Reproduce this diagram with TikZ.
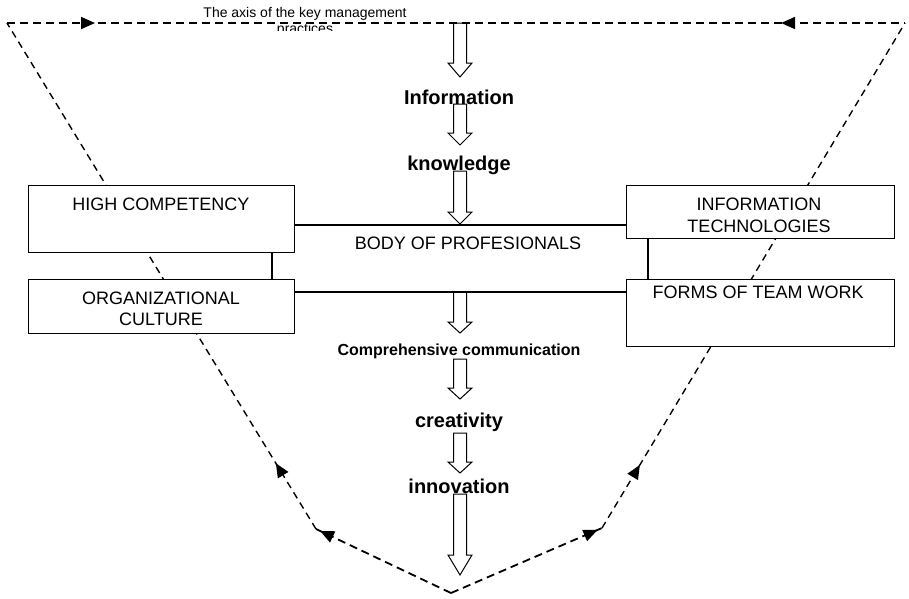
\documentclass[tikz,border=0pt]{standalone}
\usepackage{fontspec}
\setmainfont{Liberation Sans}
\usetikzlibrary{arrows.meta,decorations.markings}
\newcommand\blockarr[4]{%
  \draw[barrow] ({#1-6.5},#2) -- ({#1+6.5},#2) -- ({#1+6.5},#3) -- ({#1+12},#3)
    -- (#1,#4) -- ({#1-12},#3) -- ({#1-6.5},#3) -- cycle;}
\begin{document}
\begin{tikzpicture}[x=1pt,y=-1pt,
  >={Triangle[length=14pt,width=12pt]},
  box/.style={draw, line width=1.3pt, fill=white, inner sep=0pt, anchor=north west},
  boxtext/.style={font=\fontsize{18}{21}\selectfont, anchor=base, inner sep=0pt},
  flowtext/.style={font=\bfseries\fontsize{20}{24}\selectfont, anchor=base, inner sep=0pt},
  conn/.style={line width=1.3pt},
  dline/.style={line width=1.8pt, dash pattern=on 8pt off 5pt},
  sline/.style={line width=1.4pt, dash pattern=on 7pt off 5pt},
  barrow/.style={line width=1pt},
  tipat/.style={decoration={markings, mark=at position #1 with {\arrow{>}}}, postaction={decorate}},
]
\useasboundingbox (0,0) rectangle (909,598);

% corners of the dashed feedback loop
\coordinate (TL) at (7,23);
\coordinate (TR) at (905,23);
\coordinate (BL) at (316,529);
\coordinate (BR) at (602,528);
\coordinate (V)  at (451,593);

\draw[dline, decoration={markings,
    mark=at position 0.098 with {\arrow{>}},
    mark=at position 0.862 with {\arrowreversed{>}}}, postaction={decorate}]
  (TL) -- (TR);
\draw[sline, tipat=0.13] (BL) -- (TL);
\draw[sline, tipat=0.125] (BR) -- (TR);
\draw[dline, tipat=0.97] (V) -- (BL);
\draw[dline, tipat=0.97] (V) -- (BR);

% top label (second line cut off as in the original)
\node[font=\fontsize{14}{16}\selectfont, anchor=base, inner sep=0pt] (axis1) at (305,17.3) {The axis of the key management};
\begin{scope}
  \clip (200,0) rectangle (420,30.5);
  \node[font=\fontsize{14}{16}\selectfont, anchor=base, inner sep=0pt] (axis2) at (305,33) {practices};
\end{scope}

% boxes
\node[box, minimum width=266pt, minimum height=67pt] (hc)  at (28,185) {};
\node[box, minimum width=266pt, minimum height=54pt] (org) at (28,279) {};
\node[box, minimum width=268pt, minimum height=53pt] (it)  at (626,185) {};
\node[box, minimum width=268pt, minimum height=67pt] (ftw) at (626,279) {};

\node[boxtext] (hcT)   at (161,210) {HIGH COMPETENCY};
\node[boxtext] (orgT1) at (161,304) {ORGANIZATIONAL};
\node[boxtext] (orgT2) at (161,325) {CULTURE};
\node[boxtext] (itT1)  at (759,210) {INFORMATION};
\node[boxtext] (itT2)  at (759,232) {TECHNOLOGIES};
\node[boxtext] (ftwT)  at (758,298) {FORMS OF TEAM WORK};
\node[boxtext] (body)  at (468,249) {BODY OF PROFESIONALS};

% connectors
\coordinate (l1) at (460,225);
\coordinate (l2) at (460,292);
\coordinate (v1) at (272,0);
\coordinate (v2) at (648,0);
\draw[conn] (hc.east |- l1) -- (it.west |- l1);
\draw[conn] (org.east |- l2) -- (ftw.west |- l2);
\draw[conn] (hc.south -| v1) -- (org.north -| v1);
\draw[conn] (it.south -| v2) -- (ftw.north -| v2);

% flow labels
\node[flowtext] (info) at (459,104) {Information};
\node[flowtext] (know) at (459,170) {knowledge};
\node[flowtext, font=\bfseries\fontsize{16}{19}\selectfont] (comm) at (459,355) {Comprehensive communication};
\node[flowtext] (crea) at (459,427) {creativity};
\node[flowtext] (inno) at (459,493) {innovation};

% block arrows
\blockarr{460}{23}{63}{77}
\blockarr{460}{104}{133}{145}
\blockarr{460}{171}{212}{224}
\blockarr{460}{292}{322}{333}
\blockarr{460}{359}{388}{399}
\blockarr{460}{433}{462}{473}
\blockarr{460}{494}{555}{575}
\end{tikzpicture}
\end{document}
